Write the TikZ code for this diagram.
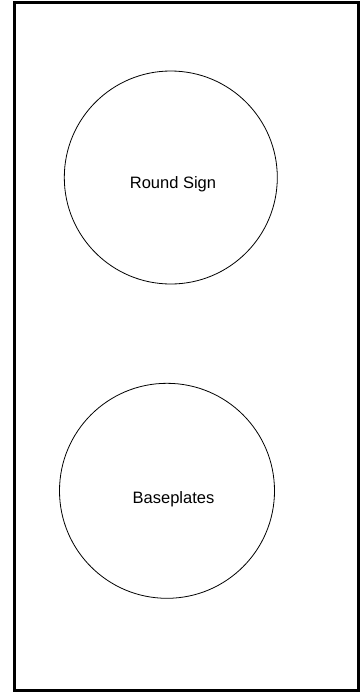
\documentclass[tikz,border=0pt]{standalone}
\usepackage{fontspec}
\setmainfont{Liberation Sans}
\begin{document}
\begin{tikzpicture}[x=1pt,y=-1pt]
\tikzstyle{frame}=[draw,line width=2.5pt]
\tikzstyle{part}=[draw,circle,line width=0.8pt,inner sep=0pt]
\tikzstyle{partlabel}=[anchor=base,inner sep=0pt,font=\fontsize{16.5}{19}\selectfont]
\useasboundingbox (0,0) rectangle (360,697);
\node[frame,minimum width=344pt,minimum height=688pt,inner sep=0pt] (board) at (186.5,346.5) {};
\node[part,minimum size=213pt] (sign) at (170.8,177.5) {};
\node[part,minimum size=215pt] (base) at (167,490.8) {};
\node[partlabel] (signtext) at (173,188) {Round Sign};
\node[partlabel] (basetext) at (173.5,503) {Baseplates};
\end{tikzpicture}
\end{document}
